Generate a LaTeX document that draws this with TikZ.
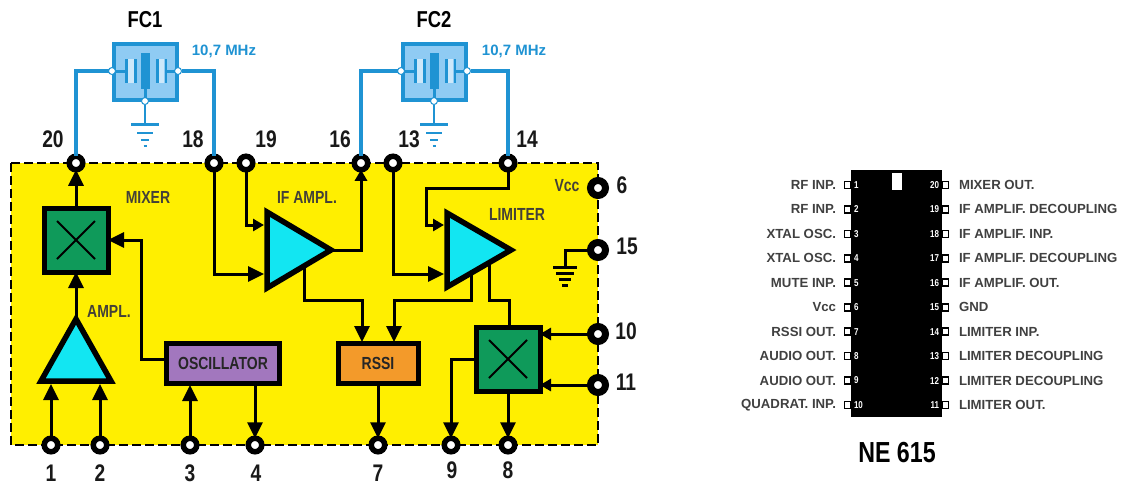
\documentclass[tikz,border=0pt]{standalone}
\usepackage{fontspec}
\setmainfont{Liberation Sans}
\newfontfamily\cond[FakeStretch=0.8]{Liberation Sans}
\usetikzlibrary{arrows.meta,calc}
\definecolor{chipyellow}{HTML}{FFEF00}
\definecolor{mixgreen}{HTML}{0F9A5A}
\definecolor{ampcyan}{HTML}{12E6F2}
\definecolor{oscpurple}{HTML}{A277BE}
\definecolor{rssiorange}{HTML}{F39A2A}
\definecolor{fcblue}{HTML}{1F93D3}
\definecolor{fcfill}{HTML}{8FCBF3}
\tikzset{
  x=1pt,y=-1pt,
  every node/.style={inner sep=0pt,outer sep=0pt},
  wire/.style={line width=3pt,line join=miter},
  awire/.style={wire,-{Triangle[length=16pt,width=15pt]}},
  swire/.style={wire,-{Triangle[length=11pt,width=12pt]}},
  bluewire/.style={line width=3.4pt,draw=fcblue},
  pinnode/.style={circle,draw=black,fill=white,line width=5.5pt,minimum size=13.5pt},
  bigpin/.style={circle,draw=black,fill=white,line width=7pt,minimum size=15pt},
  mixbox/.style={draw=black,fill=mixgreen,line width=5pt,minimum width=64pt,minimum height=64pt},
  blockbox/.style={draw=black,line width=5pt,font=\cond\bfseries\fontsize{17.5}{17.5}\selectfont,text=black!85},
  amp/.style={draw=black,fill=ampcyan,line width=5.5pt,line join=miter},
  pinnum/.style={font=\cond\bfseries\fontsize{24}{24}\selectfont,text=black!90},
  title/.style={font=\cond\bfseries\fontsize{23}{23}\selectfont},
  blocklabel/.style={font=\cond\bfseries\fontsize{17.5}{17.5}\selectfont,text=black!85!yellow},
  freq/.style={font=\bfseries\fontsize{15}{15}\selectfont,text=fcblue},
  pinlab/.style={font=\bfseries\fontsize{13.2}{13.2}\selectfont,text=black!75},
  pinidx/.style={font=\cond\bfseries\fontsize{10}{10}\selectfont,text=white},
  stub/.style={draw=black,fill=white,line width=1.6pt,minimum width=6pt,minimum height=7pt},
  term/.style={circle,draw=fcblue,fill=white,line width=1pt,minimum size=7pt},
  filt/.pic={
    \node[draw=fcblue,fill=fcfill,line width=4pt,minimum width=63pt,minimum height=56pt] (-box) at (0,0) {};
    \fill[white!55!fcfill] (-17,-13) rectangle (-10,11);
    \fill[white!55!fcfill] (12,-13) rectangle (19,11);
    \node[fill=fcblue,minimum width=2.4pt,minimum height=24pt] (-a1) at (-18.5,-1) {};
    \node[fill=fcblue,minimum width=2.4pt,minimum height=24pt] (-a2) at (-9.5,-1) {};
    \node[fill=fcblue,minimum width=2.4pt,minimum height=24pt] (-c1) at (12.5,-1) {};
    \node[fill=fcblue,minimum width=2.4pt,minimum height=24pt] (-c2) at (21,-1) {};
    \node[fill=fcblue,minimum width=9pt,minimum height=36pt] (-m) at (0,-1) {};
    \node[term] (-l) at (-33,-1) {};
    \node[term] (-r) at (33,-1) {};
    \node[term] (-b) at (0,29) {};
    \draw[fcblue,line width=3pt] (-l) -- (-a1) (-c2) -- (-r) (-m) -- (-b);
  },
  bluegnd/.pic={
    \draw[fcblue,line width=3pt] (-14,0) -- (14,0);
    \draw[fcblue,line width=2.2pt] (-8,9) -- (8,9) (-4,16) -- (4,16) (-1.5,22) -- (1.5,22);
  },
  blackgnd/.pic={
    \draw[black,line width=3pt] (-12,0) -- (12,0) (-9,6) -- (9,6) (-6,12) -- (6,12) (-3,18) -- (3,18);
  }
}
\begin{document}
\begin{tikzpicture}
\useasboundingbox (0,0) rectangle (1121,485);
\fill[white] (0,0) rectangle (1121,485);
% chip outline
\fill[chipyellow] (11,163) rectangle (598,445);
\draw[line width=2.2pt,dash pattern=on 9pt off 4pt] (11,163) rectangle (598,445);
% pins
\foreach \n/\x in {20/76,18/214,19/246,16/361,13/393,14/508} \node[pinnode] (p\n) at (\x,163) {};
\foreach \n/\x in {1/51,2/100,3/190,4/255,7/378,9/451,8/508} \node[pinnode] (p\n) at (\x,445) {};
\foreach \n/\y in {6/188,15/250,10/334,11/385} \node[bigpin] (p\n) at (598,\y) {};
% blocks
\node[mixbox] (mix1) at (76,240) {};
\node[mixbox] (mix2) at (508,359) {};
\draw[line width=1.8pt] (mix1.center) ++(-19,-19) -- ++(38,38) ++(0,-38) -- ++(-38,38);
\draw[line width=1.8pt] (mix2.center) ++(-19,-19) -- ++(38,38) ++(0,-38) -- ++(-38,38);
\node[blockbox,fill=oscpurple,minimum width=113pt,minimum height=40pt] (osc) at (223,363) {OSCILLATOR};
\node[blockbox,fill=rssiorange,minimum width=80pt,minimum height=40pt] (rssi) at (378,363) {RSSI};
% amplifiers
\coordinate (aT) at (76,319);
\coordinate (aL) at (41,381);
\coordinate (aR) at (111,381);
\coordinate (ifA) at (267,212);
\coordinate (ifB) at (267,288);
\coordinate (ifC) at (331,250);
\coordinate (liA) at (447,213);
\coordinate (liB) at (447,287);
\coordinate (liC) at (511,250);
% wires
\coordinate (if1) at (264,225);
\coordinate (if2) at (264,274);
\coordinate (li1) at (444,225);
\coordinate (li2) at (444,274);
\coordinate (ifD) at (304,266);
\coordinate (liD) at (471,270);
\coordinate (liE) at (489,258);
\coordinate (rs1) at (362,342);
\coordinate (rs2) at (394,342);
\coordinate (m2a) at (509,325);
\coordinate (oscw) at (141,359);
\draw[awire] (mix1.north) -- (p20);
\draw[awire] (aT) -- (mix1.south);
\draw[awire] (p1) -- (51,384);
\draw[awire] (p2) -- (100,384);
\draw[awire] (p3) -- (190,385);
\draw[awire] (255,385) -- (p4);
\draw[awire] (oscw -| osc.west) -| (141,240) -- (mix1.east);
\draw[awire] (p18) |- (if2);
\draw[swire] (p19) |- (if1);
\draw[swire] (ifC) -| (p16);
\draw[awire] (p13) |- (li2);
\draw[swire] (p14) -- (508,188) -| (426,225) -- (li1);
\draw[awire] (ifD) |- (362,300) -- (rs1);
\draw[awire] (liD) |- (394,300) -- (rs2);
\draw[wire] (liE) |- (509,300) -- (m2a);
\draw[awire] (rssi.south) -- (p7);
\draw[awire] (mix2.west) -| (p9);
\draw[awire] (mix2.south) -- (p8);
\draw[swire] (p10) -- (mix2.east |- p10);
\draw[swire] (p11) -- (mix2.east |- p11);
\draw[wire] (p15) -| (565,266);
\path (565,267) pic {blackgnd};
\draw[amp] (aT) -- (aR) -- (aL) -- cycle;
\draw[amp] (ifA) -- (ifC) -- (ifB) -- cycle;
\draw[amp] (liA) -- (liC) -- (liB) -- cycle;
% crystal filters
\path (145,72) pic (fc1) {filt};
\path (434,72) pic (fc2) {filt};
\draw[bluewire] (fc1-l) -| (p20);
\draw[bluewire] (fc1-r) -| (p18);
\draw[bluewire] (fc2-l) -| (p16);
\draw[bluewire] (fc2-r) -| (p14);
\coordinate (g1) at (145,124);
\coordinate (g2) at (434,124);
\draw[fcblue,line width=2.6pt] (fc1-b) -- (g1);
\draw[fcblue,line width=2.6pt] (fc2-b) -- (g2);
\path (g1) pic {bluegnd};
\path (g2) pic {bluegnd};
% labels
\node[title] (t1) at (145,20) {FC1};
\node[title] (t2) at (434,20) {FC2};
\node[freq] (f1) at (224,51) {10,7 MHz};
\node[freq] (f2) at (514,51) {10,7 MHz};
\node[blocklabel] (l1) at (148,197) {MIXER};
\node[blocklabel] (l2) at (307,197) {IF AMPL.};
\node[blocklabel] (l3) at (517,214) {LIMITER};
\node[blocklabel] (l4) at (109,311) {AMPL.};
\node[blocklabel] (l5) at (567,186) {Vcc};
\foreach \n/\x/\y in {20/53/139,18/193/139,19/266/139,16/340/139,13/409/139,14/527/139,6/622/185,15/627/246,10/626/331,11/626/382,1/51/473,2/100/473,3/190/473,4/256/473,7/378/473,9/452/470,8/508/470}
  \node[pinnum] (n\n) at (\x,\y) {\n};
% IC package
\node[fill=black,minimum width=91pt,minimum height=247pt] (ic) at (896.5,293.5) {};
\node[fill=white,minimum width=10pt,minimum height=17pt] (notch) at (897,181.5) {};
\foreach \i/\t [evaluate=\i as \yy using {185+(\i-1)*24.44}] in {1/RF  INP.,2/RF  INP.,3/XTAL OSC.,4/XTAL OSC.,5/MUTE INP.,6/Vcc,7/RSSI  OUT.,8/AUDIO OUT.,9/AUDIO OUT.,10/QUADRAT. INP.}{
  \node[stub] (sl\i) at (847.5,\yy) {};
  \node[pinlab,anchor=east] (tl\i) at (836,\yy) {\t};
  \node[pinidx,anchor=west] (il\i) at (854,\yy) {\i};
}
\foreach \i/\t [evaluate=\i as \yy using {185+(\i-1)*24.44},evaluate=\i as \pn using {int(21-\i)}] in {1/MIXER OUT.,2/IF AMPLIF. DECOUPLING,3/IF AMPLIF. INP.,4/IF AMPLIF. DECOUPLING,5/IF AMPLIF. OUT.,6/GND,7/LIMITER INP.,8/LIMITER DECOUPLING,9/LIMITER DECOUPLING,10/LIMITER OUT.}{
  \node[stub] (sr\i) at (945.5,\yy) {};
  \node[pinlab,anchor=west] (tr\i) at (959,\yy) {\t};
  \node[pinidx,anchor=east] (ir\i) at (939,\yy) {\pn};
}
\node[font=\cond\bfseries\fontsize{29}{29}\selectfont] (ne) at (897,453) {NE 615};
\end{tikzpicture}
\end{document}
